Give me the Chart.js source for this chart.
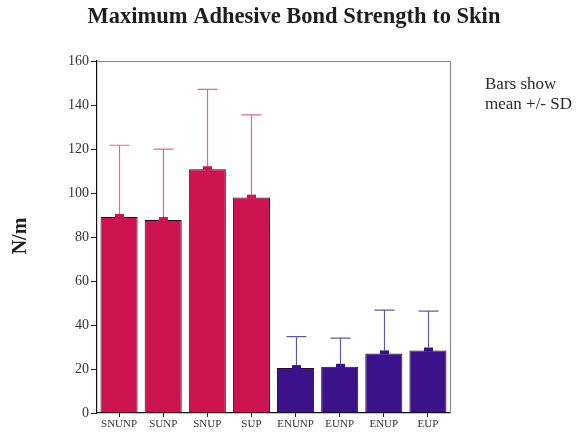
<!DOCTYPE html>
<html>
<head>
<meta charset="utf-8">
<script src="https://cdn.jsdelivr.net/npm/chart.js@4/dist/chart.umd.min.js"></script>
<style>
  html, body { margin: 0; padding: 0; background: #ffffff; }
  #wrap { width: 586px; height: 437px; position: relative; }
</style>
</head>
<body>
<div id="wrap"><canvas id="c" width="586" height="437"></canvas></div>
<script>
// Adhesive groups and their mean / standard deviation (N/m)
const categories = ['SNUNP', 'SUNP', 'SNUP', 'SUP', 'ENUNP', 'EUNP', 'ENUP', 'EUP'];
const means      = [89.1, 87.7, 110.8, 97.9, 20.4, 21.0, 27.1, 28.4];
const sds        = [32.6, 32.2, 36.3, 37.6, 14.3, 13.0, 19.7, 17.9];
const yTicks     = [0, 20, 40, 60, 80, 100, 120, 140, 160];

const titleText  = 'Maximum Adhesive Bond Strength to Skin';
const yAxisText  = 'N/m';
const noteLines  = ['Bars show', 'mean +/- SD'];

const RED = '#cc1450', BLUE = '#3b1289';
const barColors  = categories.map(c => c.startsWith('S') ? RED : BLUE);
const whiskerCol = categories.map(c => c.startsWith('S') ? '#e8667e' : '#5c5c9c');

const SERIF = '"Liberation Serif", "DejaVu Serif", serif';

// Error bars (mean to mean + SD) plus frame, title, axis title and note
const decorations = {
  id: 'decorations',
  afterDatasetsDraw(chart) {
    const ctx = chart.ctx;
    const y = chart.scales.y;
    const area = chart.chartArea;
    const meta = chart.getDatasetMeta(0);
    ctx.save();
    meta.data.forEach((bar, i) => {
      const x = Math.round(bar.x) + 0.5;
      const yMean = y.getPixelForValue(means[i]);
      const yTop = y.getPixelForValue(means[i] + sds[i]);
      // small block at the mean
      ctx.fillStyle = barColors[i];
      ctx.fillRect(x - 4.5, yMean - 3, 9, 4);
      ctx.strokeStyle = whiskerCol[i];
      ctx.lineWidth = 1.2;
      ctx.beginPath();
      ctx.moveTo(x, yMean - 3);
      ctx.lineTo(x, yTop);
      ctx.moveTo(x - 10, yTop);
      ctx.lineTo(x + 10, yTop);
      ctx.stroke();
    });
    // top and right frame of the plot
    ctx.strokeStyle = '#8a8a8a';
    ctx.lineWidth = 1.2;
    ctx.beginPath();
    ctx.moveTo(area.left, area.top + 0.5);
    ctx.lineTo(area.right + 0.5, area.top + 0.5);
    ctx.lineTo(area.right + 0.5, area.bottom);
    ctx.stroke();

    // title
    ctx.fillStyle = '#1e1e1e';
    ctx.font = 'bold 22.5px ' + SERIF;
    ctx.textAlign = 'center';
    ctx.textBaseline = 'middle';
    ctx.fillText(titleText, 294, 17);

    // y axis title
    ctx.save();
    ctx.translate(21, 236);
    ctx.rotate(-Math.PI / 2);
    ctx.font = 'bold 20px ' + SERIF;
    ctx.fillText(yAxisText, 0, 0);
    ctx.restore();

    // note
    ctx.font = '17px ' + SERIF;
    ctx.textAlign = 'left';
    ctx.fillStyle = '#2a2a2a';
    noteLines.forEach((t, k) => ctx.fillText(t, 485, 85 + k * 20));
    ctx.restore();
  }
};

new Chart(document.getElementById('c'), {
  type: 'bar',
  data: {
    labels: categories,
    datasets: [{
      data: means,
      backgroundColor: barColors,
      borderColor: '#2a0a22',
      borderWidth: 1,
      categoryPercentage: 0.84,
      barPercentage: 1.0
    }]
  },
  options: {
    responsive: false,
    animation: false,
    devicePixelRatio: 1,
    layout: { padding: { top: 61, right: 136, bottom: 0, left: 0 } },
    plugins: { legend: { display: false }, tooltip: { enabled: false }, title: { display: false } },
    scales: {
      x: {
        afterFit(s) { s.height = 24; },
        grid: { display: true, drawOnChartArea: false, drawTicks: true, tickLength: 4, offset: false, color: '#222' },
        border: { display: true, color: '#111', width: 1.2 },
        ticks: {
          color: '#333',
          font: { family: SERIF, size: 11 },
          padding: 1,
          maxRotation: 0,
          autoSkip: false
        }
      },
      y: {
        min: 0, max: 160,
        afterFit(s) { s.width = 97; },
        afterBuildTicks(s) { s.ticks = yTicks.map(v => ({ value: v })); },
        grid: { display: true, drawOnChartArea: false, drawTicks: true, tickLength: 6, color: '#222' },
        border: { display: true, color: '#111', width: 1.2 },
        ticks: {
          color: '#333',
          font: { family: SERIF, size: 14 },
          padding: 2
        }
      }
    }
  },
  plugins: [decorations]
});
</script>
</body>
</html>
